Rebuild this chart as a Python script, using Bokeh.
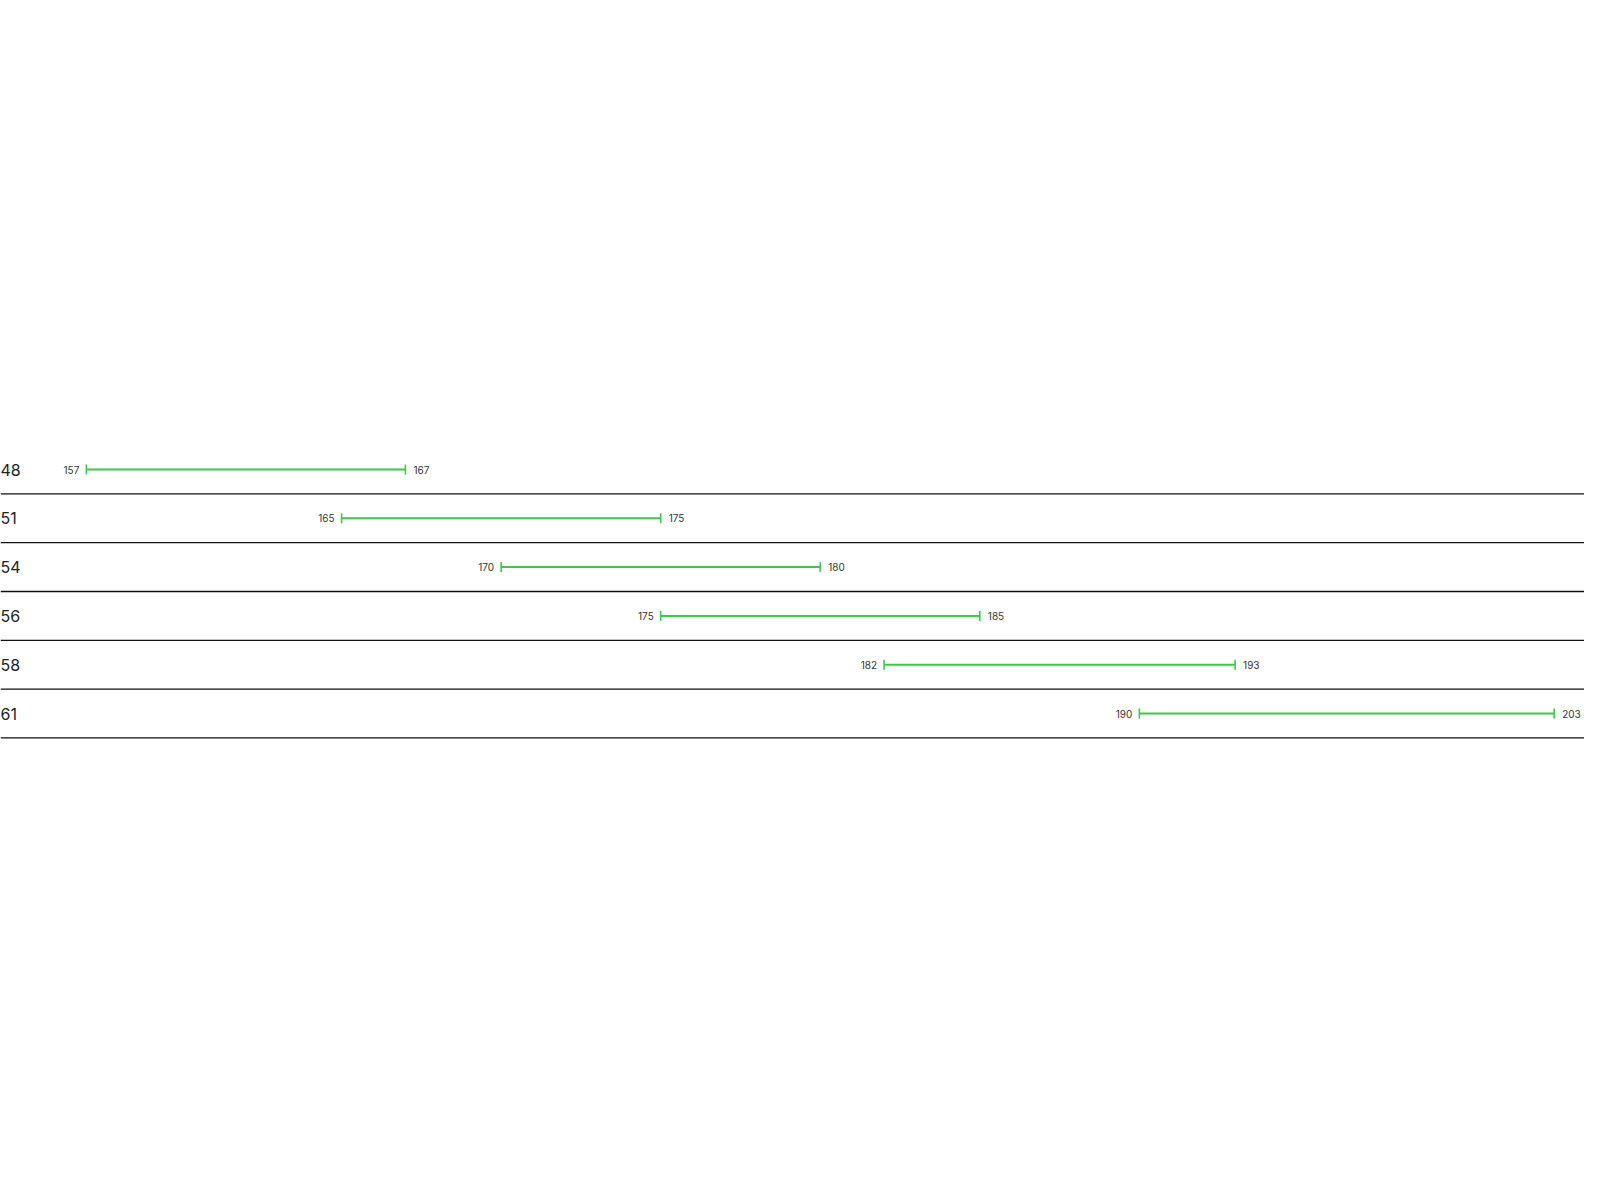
import math
from bokeh.plotting import figure
from bokeh.models import ColumnDataSource, Range1d, Span
from bokeh.core.properties import value
from bokeh.embed import file_html
from bokeh.resources import INLINE

# ---- data ----
categories = ["48", "51", "54", "56", "58", "61"]
low_values = [157, 165, 170, 175, 182, 190]
high_values = [167, 175, 180, 185, 193, 203]

# ---- layout ----
W, H = 1584, 1184
X_START, X_END = 154.31, 203.95
Y_BOTTOM, Y_TOP = 14.651, -9.611

rows = list(range(len(categories)))
src = ColumnDataSource(dict(
    row=rows,
    cat=categories,
    lo=low_values,
    hi=high_values,
    lo_txt=[str(v) for v in low_values],
    hi_txt=[str(v) for v in high_values],
    lab_x=[X_START] * len(rows),
))

p = figure(width=W, height=H, output_backend="svg", toolbar_location=None,
           x_range=Range1d(X_START, X_END), y_range=Range1d(Y_BOTTOM, Y_TOP),
           min_border=0)
p.axis.visible = False
p.grid.visible = False
p.outline_line_color = None
p.background_fill_color = "white"
p.border_fill_color = "white"

# separators below each row
for r in rows:
    p.add_layout(Span(location=r + 0.5, dimension="width",
                      line_color="#111111", line_width=1.3))

green = "#3cc94a"
p.segment(x0="lo", y0="row", x1="hi", y1="row", source=src,
          line_color=green, line_width=2)
p.scatter(x="lo", y="row", source=src, marker="dash", angle=math.pi / 2,
          size=10, line_color=green, line_width=1.6)
p.scatter(x="hi", y="row", source=src, marker="dash", angle=math.pi / 2,
          size=10, line_color=green, line_width=1.6)

font = value("Inter")
p.text(x="lo", y="row", text="lo_txt", source=src, x_offset=-7,
       text_align="right", text_baseline="middle", text_font=font,
       text_font_size="10px", text_color="#333333")
p.text(x="hi", y="row", text="hi_txt", source=src, x_offset=8,
       text_align="left", text_baseline="middle", text_font=font,
       text_font_size="10px", text_color="#333333")
p.text(x="lab_x", y="row", text="cat", source=src, x_offset=0,
       text_align="left", text_baseline="middle", text_font=font,
       text_font_size="16px", text_color="#222222")

open("out.html", "w").write(file_html(p, INLINE))
